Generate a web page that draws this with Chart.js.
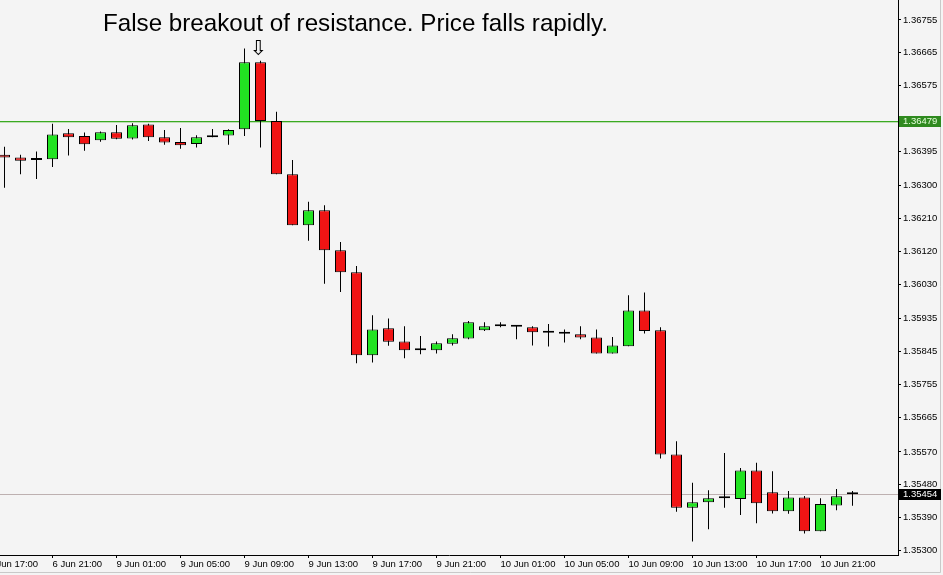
<!DOCTYPE html>
<html>
<head>
<meta charset="utf-8">
<script src="https://cdn.jsdelivr.net/npm/chart.js@4.4.0/dist/chart.umd.min.js"></script>
<style>
html,body{margin:0;padding:0;background:#f4f4f4;overflow:hidden}
canvas{display:block}
</style>
</head>
<body>
<canvas id="c" width="943" height="575"></canvas>
<script>
// ---- data (hourly candles, 6 Jun 18:00 .. 10 Jun 23:00) ----
const candleIndex = [0,1,2,3,4,5,6,7,8,9,10,11,12,13,14,15,16,17,18,19,20,21,22,23,24,25,26,27,28,29,30,31,32,33,34,35,36,37,38,39,40,41,42,43,44,45,46,47,48,49,50,51,52,53];
const opens  = [1.36385,1.36378,1.36371,1.36373,1.36444,1.36437,1.36425,1.36447,1.36430,1.36468,1.36433,1.36420,1.36415,1.36433,1.36438,1.36455,1.36639,1.36478,1.36332,1.36192,1.36233,1.36123,1.36063,1.35835,1.35909,1.35873,1.35849,1.35849,1.35867,1.35881,1.35904,1.35915,1.35913,1.35912,1.35897,1.35894,1.35893,1.35884,1.35840,1.35860,1.35958,1.35904,1.35563,1.35417,1.35432,1.35443,1.35441,1.35519,1.35459,1.35407,1.35445,1.35352,1.35423,1.35454];
const highs  = [1.36407,1.36385,1.36394,1.36470,1.36456,1.36446,1.36449,1.36467,1.36472,1.36470,1.36453,1.36459,1.36439,1.36456,1.36455,1.36677,1.36643,1.36503,1.36371,1.36256,1.36247,1.36146,1.36080,1.35945,1.35936,1.35915,1.35888,1.35873,1.35893,1.35929,1.35926,1.35926,1.35918,1.35915,1.35921,1.35906,1.35915,1.35906,1.35885,1.36000,1.36007,1.35912,1.35599,1.35485,1.35465,1.35567,1.35526,1.35540,1.35517,1.35463,1.35449,1.35443,1.35468,1.35463];
const lows   = [1.36295,1.36332,1.36319,1.36352,1.36383,1.36396,1.36421,1.36428,1.36427,1.36423,1.36413,1.36402,1.36405,1.36433,1.36413,1.36437,1.36405,1.36332,1.36192,1.36149,1.36031,1.36009,1.35813,1.35815,1.35861,1.35827,1.35838,1.35840,1.35862,1.35879,1.35902,1.35912,1.35879,1.35862,1.35859,1.35870,1.35879,1.35840,1.35840,1.35860,1.35895,1.35552,1.35406,1.35324,1.35358,1.35417,1.35397,1.35374,1.35401,1.35400,1.35346,1.35352,1.35410,1.35422];
const closes = [1.36378,1.36369,1.36371,1.36441,1.36433,1.36414,1.36447,1.36429,1.36466,1.36433,1.36419,1.36411,1.36433,1.36439,1.36453,1.36639,1.36478,1.36332,1.36192,1.36233,1.36123,1.36063,1.35835,1.35906,1.35872,1.35849,1.35849,1.35868,1.35882,1.35926,1.35915,1.35915,1.35913,1.35898,1.35897,1.35894,1.35884,1.35840,1.35862,1.35958,1.35902,1.35563,1.35417,1.35432,1.35443,1.35443,1.35519,1.35429,1.35407,1.35445,1.35352,1.35427,1.35448,1.35454];

const xTickIndex  = [-1,3,7,11,15,19,23,27,31,35,39,43,47,51];
const xTickLabels = ["6 Jun 17:00","6 Jun 21:00","9 Jun 01:00","9 Jun 05:00","9 Jun 09:00","9 Jun 13:00","9 Jun 17:00","9 Jun 21:00","10 Jun 01:00","10 Jun 05:00","10 Jun 09:00","10 Jun 13:00","10 Jun 17:00","10 Jun 21:00"];
const yTickValues = [1.36755,1.36665,1.36575,1.36395,1.36300,1.36210,1.36120,1.36030,1.35935,1.35845,1.35755,1.35665,1.35570,1.35480,1.35390,1.35300];

const resistanceLevel = 1.36479;
const bidLevel = 1.35454;
const titleText = "False breakout of resistance. Price falls rapidly.";
const arrowCandle = 16;

// ---- styling ----
const UP = '#22e322', DOWN = '#f01414', DOJI = '#000000';
const TICK_FONT = {family: '"Liberation Sans", Arial, sans-serif', size: 9.5};

const bodyData = candleIndex.map(i => ({x: i, y: [opens[i], closes[i]]}));
const wickData = candleIndex.map(i => ({x: i, y: [lows[i], highs[i]]}));

const overlay = {
  id: 'overlay',
  beforeDraw(chart) {
    const ctx = chart.ctx;
    ctx.save();
    ctx.fillStyle = '#f4f4f4';
    ctx.fillRect(0, 0, chart.width, chart.height);
    ctx.restore();
  },
  beforeDatasetsDraw(chart) {
    const {ctx, chartArea: a, scales: {y}} = chart;
    ctx.save();
    const ry = Math.round(y.getPixelForValue(resistanceLevel));
    ctx.fillStyle = '#3aaa22';
    ctx.fillRect(a.left, ry, a.right - a.left, 1);
    ctx.fillStyle = 'rgba(90,180,60,0.35)';
    ctx.fillRect(a.left, ry + 1, a.right - a.left, 1);
    const by = Math.round(y.getPixelForValue(bidLevel));
    ctx.fillStyle = '#bdb0b0';
    ctx.fillRect(a.left, by, a.right - a.left, 1);
    ctx.restore();
  },
  afterDraw(chart) {
    const {ctx, chartArea: a, scales: {x, y}} = chart;
    ctx.save();
    // window frame
    ctx.strokeStyle = '#c9c9c9';
    ctx.lineWidth = 1;
    ctx.beginPath();
    ctx.moveTo(chart.width - 2.5, 0); ctx.lineTo(chart.width - 2.5, chart.height - 2.5);
    ctx.lineTo(0, chart.height - 2.5);
    ctx.stroke();
    // price label boxes
    const boxes = [
      {v: resistanceLevel, bg: '#2f8a1f', fg: '#e6ffdc'},
      {v: bidLevel, bg: '#000000', fg: '#ffffff'}
    ];
    ctx.font = '9.5px "Liberation Sans", Arial, sans-serif';
    ctx.textBaseline = 'middle';
    ctx.textAlign = 'left';
    for (const b of boxes) {
      const py = Math.round(y.getPixelForValue(b.v));
      ctx.fillStyle = b.bg;
      ctx.fillRect(a.right + 1, py - 5, 42, 11);
      ctx.fillStyle = b.fg;
      ctx.fillText(b.v.toFixed(5), a.right + 5, py + 0.5);
    }
    // title
    ctx.fillStyle = '#000';
    ctx.font = '24.2px "Liberation Sans", Arial, sans-serif';
    ctx.textBaseline = 'alphabetic';
    ctx.textAlign = 'left';
    ctx.fillText(titleText, a.left + 103, a.top + 31);
    // arrow marker above the breakout candle
    ctx.font = '21px "DejaVu Sans", sans-serif';
    ctx.textAlign = 'center';
    ctx.textBaseline = 'bottom';
    ctx.fillText('\u21E9', x.getPixelForValue(arrowCandle) - 2, y.getPixelForValue(highs[arrowCandle]) - 1);
    ctx.restore();
  }
};

new Chart(document.getElementById('c'), {
  type: 'bar',
  data: {
    datasets: [
      {
        label: 'body',
        data: bodyData,
        order: 0,
        grouped: false,
        barThickness: 11,
        minBarLength: 2,
        borderWidth: 1,
        borderColor: '#000',
        borderSkipped: false,
        inflateAmount: 0,
        backgroundColor: ctx => {
          const i = ctx.dataIndex;
          if (closes[i] > opens[i]) return UP;
          if (closes[i] < opens[i]) return DOWN;
          return DOJI;
        }
      },
      {
        label: 'wick',
        data: wickData,
        order: 1,
        grouped: false,
        barThickness: 1,
        borderWidth: 0,
        inflateAmount: 0,
        backgroundColor: '#000'
      }
    ]
  },
  options: {
    responsive: false,
    animation: false,
    devicePixelRatio: 1,
    layout: {padding: 0},
    plugins: {legend: {display: false}, tooltip: {enabled: false}, title: {display: false}},
    scales: {
      x: {
        type: 'linear',
        offset: false,
        min: -0.28125,
        max: 55.84375,
        grid: {offset: false, drawOnChartArea: false, drawTicks: true, tickLength: 3, tickColor: '#000'},
        border: {display: true, color: '#000', width: 1},
        ticks: {
          autoSkip: false, maxRotation: 0, minRotation: 0, align: 'start', padding: 1,
          color: '#000', font: TICK_FONT,
          callback: (v, i) => xTickLabels[i]
        },
        afterBuildTicks: s => { s.ticks = xTickIndex.map(v => ({value: v})); },
        afterFit: s => { s.height = 20; s.paddingLeft = 0; s.paddingRight = 0; s.paddingTop = 0; s.paddingBottom = 0; }
      },
      y: {
        type: 'linear',
        position: 'right',
        min: 1.3528707,
        max: 1.3680987,
        beginAtZero: false,
        grid: {drawOnChartArea: false, drawTicks: true, tickLength: 3, tickColor: '#000'},
        border: {display: true, color: '#000', width: 1},
        ticks: {
          autoSkip: false, padding: 2, color: '#000', font: TICK_FONT,
          callback: v => Number(v).toFixed(5)
        },
        afterBuildTicks: s => { s.ticks = yTickValues.map(v => ({value: v})); },
        afterFit: s => { s.width = 45; s.paddingTop = 0; s.paddingBottom = 0; s.paddingLeft = 0; s.paddingRight = 0; }
      }
    }
  },
  plugins: [overlay]
});
</script>
</body>
</html>
